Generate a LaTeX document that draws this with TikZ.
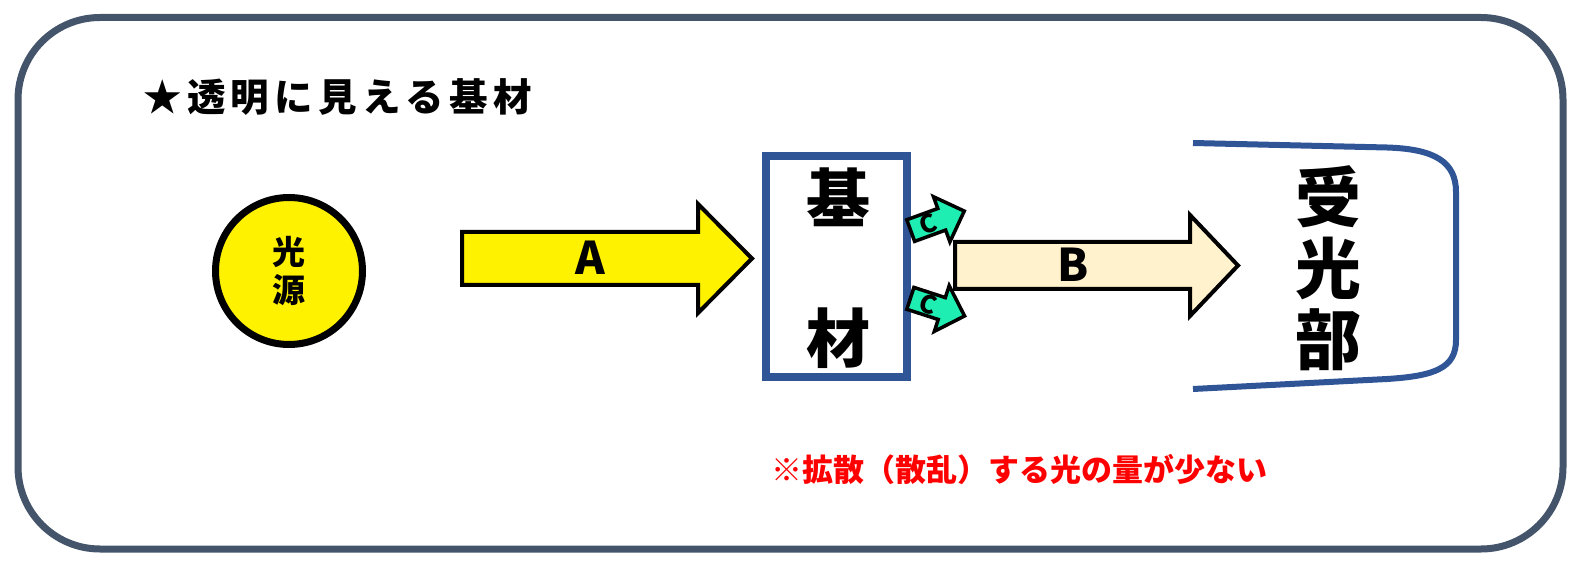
\documentclass[tikz,border=0pt]{standalone}
\usepackage{fontspec}
\setmainfont{Noto Sans CJK JP}
\definecolor{framec}{HTML}{44546A}
\definecolor{boxblue}{HTML}{2F5597}
\definecolor{cream}{HTML}{FFF2CC}
\definecolor{aqua}{RGB}{30,238,178}
\definecolor{noteRed}{RGB}{255,0,0}
\begin{document}
\begin{tikzpicture}[x=1pt,y=-1pt,
  blockarrow/.style={draw=black, line width=4pt, line join=miter},
  garrow/.style={draw=black, line width=3.5pt, fill=aqua, line join=miter},
  bigjp/.style={font=\bfseries\fontsize{64}{140}\selectfont, align=center, inner sep=0pt},
  arrowlabel/.style={font=\bfseries\fontsize{45}{45}\selectfont, inner sep=0pt},
  clabel/.style={transform shape, inner sep=0pt, font=\bfseries\fontsize{25}{25}\selectfont}]
\useasboundingbox (0,0) rectangle (1583,577);
% frame
\draw[framec, line width=7pt, rounded corners=82pt] (18,17.5) rectangle (1563,549);
% title
\node[anchor=west, inner sep=0pt, font=\bfseries\fontsize{38.5}{38.5}\selectfont\addfontfeatures{LetterSpace=14}] (title) at (143,97) {★透明に見える基材};
% light source
\node[circle, draw=black, line width=7pt, fill=yellow, minimum size=147pt, inner sep=0pt,
      align=center, font=\bfseries\fontsize{33}{38}\selectfont] (src) at (289,271) {光\\源};
% arrow A
\draw[blockarrow, fill=yellow] (462,232) -- (698,232) -- (698,204) -- (752,258.5) -- (698,313) -- (698,285) -- (462,285) -- cycle;
\node[arrowlabel] (labA) at (590,258) {A};
% substrate box
\draw[boxblue, line width=8pt] (766,156) rectangle (907,377);
\node[bigjp] (sub) at (838,268) {基\\材};
% small scattered arrows
\begin{scope}[shift={(937,221)}, rotate=20]
\draw[garrow] (-28,-11.5) -- (5,-11.5) -- (5,-24) -- (29,0) -- (5,24) -- (5,11.5) -- (-28,11.5) -- cycle;
\node[clabel] (labC1) at (-9,0) {C};
\end{scope}
\begin{scope}[shift={(937,307)}, rotate=-18]
\draw[garrow] (-28,-11.5) -- (5,-11.5) -- (5,-24) -- (29,0) -- (5,24) -- (5,11.5) -- (-28,11.5) -- cycle;
\node[clabel] (labC2) at (-9,0) {C};
\end{scope}
% arrow B
\draw[blockarrow, fill=cream] (955,242) -- (1190,242) -- (1190,215) -- (1238,265.5) -- (1190,316) -- (1190,289) -- (955,289) -- cycle;
\node[arrowlabel] (labB) at (1073,265) {B};
% receiver
\draw[boxblue, line width=6pt, line cap=butt] (1193,143) -- (1387,147.5)
  .. controls (1435,149) and (1456,162) .. (1456,192) -- (1456,340)
  .. controls (1456,368) and (1435,376) .. (1387,379) -- (1193,389);
\node[font=\bfseries\fontsize{66}{71}\selectfont, align=center, inner sep=0pt] (recv) at (1328,268) {受\\光\\部};
% note
\node[anchor=west, inner sep=0pt, text=noteRed, font=\bfseries\fontsize{31}{31}\selectfont] (note) at (771,470) {※拡散（散乱）する光の量が少ない};
\end{tikzpicture}
\end{document}
